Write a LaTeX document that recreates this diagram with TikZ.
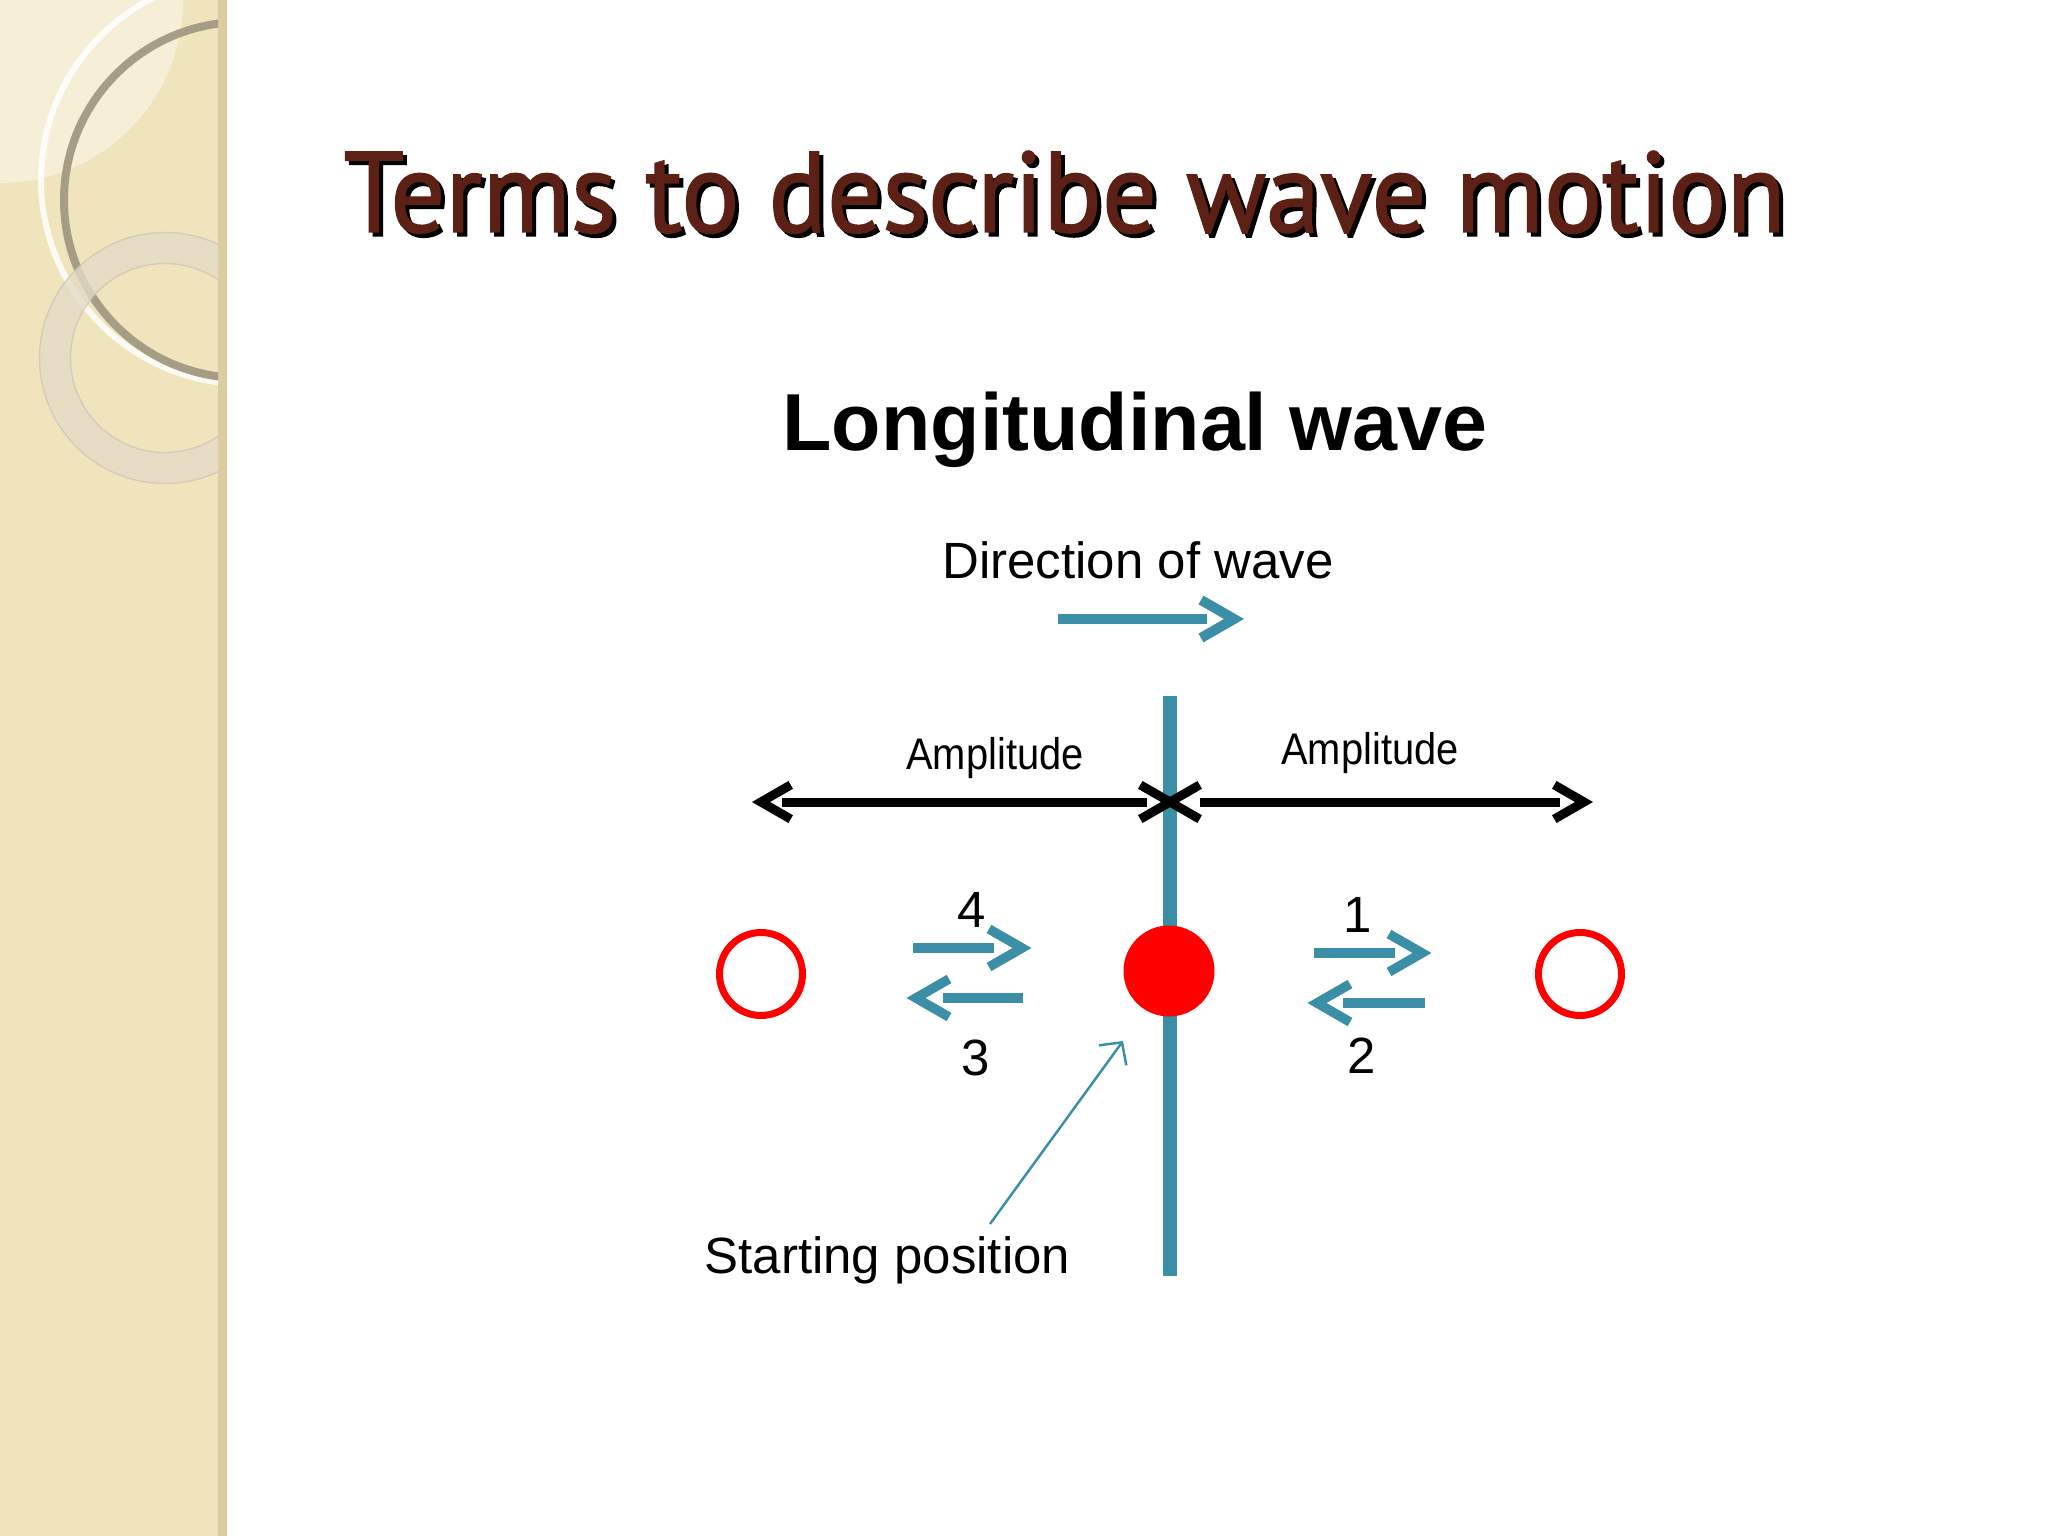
\documentclass[tikz,border=0pt]{standalone}
\usepackage{fontspec}
\setmainfont{Liberation Sans}
\newfontfamily\titlefont[FakeBold=1.3]{PT Sans}
\usepackage{tikz}
\usetikzlibrary{arrows.meta,positioning,calc}
\definecolor{waveteal}{RGB}{58,143,166}
\definecolor{dotred}{RGB}{255,0,0}
\definecolor{titlebrown}{RGB}{92,32,20}
\definecolor{sidebeige}{RGB}{240,228,188}
\definecolor{sideedge}{RGB}{218,205,160}
\definecolor{ringgray}{RGB}{166,157,134}
\definecolor{ringpale}{RGB}{228,219,198}
\newcommand{\drawChevron}[4]{
    \begin{scope}[shift={(#1)},rotate=#2]
        \draw[#3,line width=#4,line cap=butt,line join=miter] (-0.33,0.19) -- (0,0) -- (-0.33,-0.19);
    \end{scope}
}

\begin{document}
\begin{tikzpicture}[line cap=butt,>=Stealth,
    txt/.style={font=\fontsize{14.5}{17}\selectfont,inner sep=0pt},
    ampltxt/.style={font=\fontsize{12.6}{15}\selectfont,inner sep=0pt,anchor=base}]

        \useasboundingbox (0,0) rectangle (20.48,-15.36);
        \fill[white] (0,0) rectangle (20.48,-15.36);

        % --- Side bar ---
        \fill[sidebeige] (0,0) rectangle (2.27,-15.36);
        \fill[sideedge] (2.18,0) rectangle (2.27,-15.36);
        \begin{scope}
            \clip (0,0) rectangle (2.18,-15.36);
            \fill[white,opacity=0.4] (0,0) circle (1.83);
            \draw[white,opacity=0.85,line width=0.06cm] (2.45,-1.80) circle (2.04);
            \draw[ringgray,line width=0.08cm] (2.42,-2.00) circle (1.78);
            \draw[ringpale,opacity=0.8,line width=0.31cm] (1.65,-3.58) circle (1.10);
            \draw[ringgray!60,opacity=0.7,line width=0.4pt] (1.65,-3.58) circle (1.255);
            \draw[ringgray!60,opacity=0.7,line width=0.4pt] (1.65,-3.58) circle (0.945);
        \end{scope}

        % --- Title ---
        \node[anchor=base west,inner sep=0pt,text=black] (titleshadow) at (3.47,-2.36)
            {\titlefont\resizebox{14.42cm}{0.81cm}{Terms to describe wave motion}};
        \node[anchor=base west,inner sep=0pt,text=titlebrown] (title) at (3.43,-2.32)
            {\titlefont\resizebox{14.42cm}{0.81cm}{Terms to describe wave motion}};

        \node[anchor=base,inner sep=0pt,font=\fontsize{23}{27}\selectfont\bfseries] (subtitle) at (11.35,-4.51) {Longitudinal wave};

        % --- Variables ---
        \coordinate (dirstart) at (10.58,-6.19);
        \coordinate (dirend) at (12.07,-6.19);
        \coordinate (dirtip) at (12.34,-6.19);

        \coordinate (mid) at (11.70,-8.02);
        \coordinate (amplefttip) at (7.61,-8.02);
        \coordinate (ampleftstart) at (7.82,-8.02);
        \coordinate (ampleftend) at (11.47,-8.02);
        \coordinate (amprightstart) at (12.00,-8.02);
        \coordinate (amprightend) at (15.60,-8.02);
        \coordinate (amprighttip) at (15.84,-8.02);

        \coordinate (linetop) at (11.70,-6.96);
        \coordinate (linebottom) at (11.70,-12.76);

        % Direction of wave
        \node[txt,anchor=base] (dirlabel) at (11.38,-5.79) {Direction of wave};
        \draw[waveteal,line width=0.10cm] (dirstart) -- (dirend);
        \drawChevron{dirtip}{0}{waveteal}{0.10cm}

        % Rest position line
        \draw[waveteal,line width=0.14cm] (linetop) -- (linebottom);

        % Particles
        \node[circle,draw=dotred,line width=0.07cm,minimum size=0.83cm,inner sep=0pt] (leftpos) at (7.61,-9.74) {};
        \node[circle,draw=dotred,line width=0.07cm,minimum size=0.83cm,inner sep=0pt] (rightpos) at (15.80,-9.74) {};
        \node[circle,fill=dotred,minimum size=0.91cm,inner sep=0pt] (start) at (11.69,-9.71) {};

        % Amplitude arrows
        \draw[black,line width=0.09cm] (ampleftstart) -- (ampleftend);
        \draw[black,line width=0.09cm] (amprightstart) -- (amprightend);
        \drawChevron{amplefttip}{180}{black,scale=0.9}{0.09cm}
        \drawChevron{mid}{0}{black,scale=0.9}{0.09cm}
        \drawChevron{mid}{180}{black,scale=0.9}{0.09cm}
        \drawChevron{amprighttip}{0}{black,scale=0.9}{0.09cm}

        \node[ampltxt] (ampleft) at (9.95,-7.69) {\scalebox{0.9}[1]{Amplitude}};
        \node[ampltxt] (ampright) at (13.70,-7.65) {\scalebox{0.9}[1]{Amplitude}};

        % Oscillation steps, left side
        \coordinate (fourstart) at (9.13,-9.48);
        \coordinate (fourend) at (9.94,-9.48);
        \coordinate (fourtip) at (10.22,-9.48);
        \coordinate (threetip) at (9.16,-9.98);
        \coordinate (threestart) at (9.43,-9.98);
        \coordinate (threeend) at (10.23,-9.98);

        \draw[waveteal,line width=0.095cm] (fourstart) -- (fourend);
        \drawChevron{fourtip}{0}{waveteal}{0.095cm}
        \draw[waveteal,line width=0.095cm] (threestart) -- (threeend);
        \drawChevron{threetip}{180}{waveteal}{0.095cm}

        % Oscillation steps, right side
        \coordinate (onestart) at (13.14,-9.53);
        \coordinate (oneend) at (13.95,-9.53);
        \coordinate (onetip) at (14.22,-9.53);
        \coordinate (twotip) at (13.17,-10.03);
        \coordinate (twostart) at (13.43,-10.03);
        \coordinate (twoend) at (14.25,-10.03);

        \draw[waveteal,line width=0.095cm] (onestart) -- (oneend);
        \drawChevron{onetip}{0}{waveteal}{0.095cm}
        \draw[waveteal,line width=0.095cm] (twostart) -- (twoend);
        \drawChevron{twotip}{180}{waveteal}{0.095cm}

        % step numbers
        \node[txt] (stepfour) at (9.72,-9.10) {4};
        \node[txt] (stepone) at (13.58,-9.15) {1};
        \node[txt] (stepthree) at (9.76,-10.58) {3};
        \node[txt] (steptwo) at (13.62,-10.56) {2};

        % Starting position label
        \node[txt,anchor=base west] (startlabel) at (7.04,-12.73) {Starting position};
        \coordinate (ptrstart) at (9.90,-12.24);
        \coordinate (ptrtip) at (11.23,-10.41);
        \draw[-{Straight Barb[length=1.6mm,width=3.4mm]},waveteal,line width=0.7pt] (ptrstart) -- (ptrtip);

    \end{tikzpicture}
\end{document}
